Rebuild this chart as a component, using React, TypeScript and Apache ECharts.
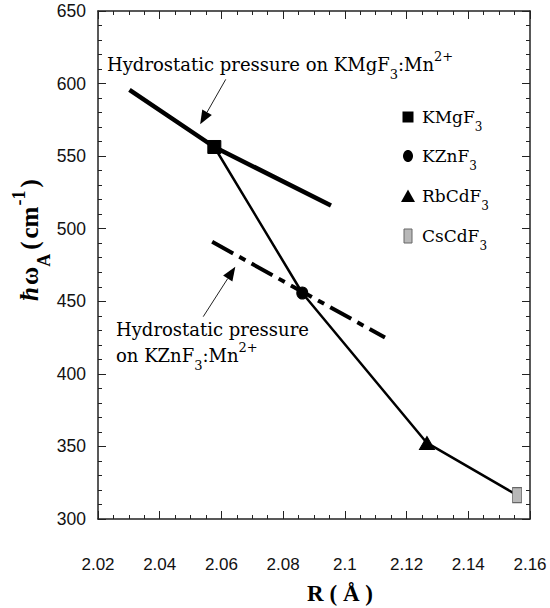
import React, { useEffect, useRef } from 'react';
import * as echarts from 'echarts';

// ---- data ----
const compounds = ['KMgF3', 'KZnF3', 'RbCdF3', 'CsCdF3'];
const R = [2.0577, 2.0862, 2.1266, 2.1558];
const omegaA = [556.3, 455.7, 352.4, 316.5];
const kmgPressureR = [2.0302, 2.0577, 2.0955];
const kmgPressureW = [595.6, 556.3, 516.0];
const kznPressureR = [2.057, 2.113];
const kznPressureW = [491.0, 425.0];
const xTickValues = [2.02, 2.04, 2.06, 2.08, 2.1, 2.12, 2.14, 2.16];
const yTickValues = [300, 350, 400, 450, 500, 550, 600, 650];
// annotation arrows (data coords): tail -> tip
const arrow1 = [[2.0614, 602.9], [2.0531, 571.9]];
const arrow2 = [[2.0541, 439.4], [2.0645, 473.8]];

const SERIF = '"DejaVu Serif", serif';
const BOLD_SERIF = '"Liberation Serif", "Times New Roman", serif';
const SANS = '"Liberation Sans", Arial, sans-serif';

type Part = { t: string; k?: 'sub' | 'sup'; it?: boolean; gap?: number };

let measureCtx: CanvasRenderingContext2D | null = null;
function measure(text: string, font: string): number {
  if (!measureCtx) measureCtx = document.createElement('canvas').getContext('2d');
  measureCtx!.font = font;
  return measureCtx!.measureText(text).width;
}

function textRun(x: number, yMid: number, parts: Part[], size: number, family: string, weight = 'normal') {
  const out: any[] = [];
  let cx = x;
  parts.forEach((p) => {
    const fs = p.k ? Math.round(size * 0.72) : size;
    const fstyle = p.it ? 'italic' : 'normal';
    const font = `${fstyle} ${weight} ${fs}px ${family}`;
    const dy = p.k === 'sub' ? size * 0.6 : p.k === 'sup' ? -size * 0.42 : 0;
    cx += p.gap || 0;
    out.push({
      type: 'text',
      x: cx,
      y: yMid + dy,
      silent: true,
      style: {
        text: p.t,
        fontSize: fs,
        fontFamily: family,
        fontWeight: weight,
        fontStyle: fstyle,
        fill: '#000',
        textAlign: 'left',
        textVerticalAlign: 'middle',
        align: 'left',
        verticalAlign: 'middle',
      },
    });
    cx += measure(p.t, font);
  });
  return out;
}

function arrowEls(tail: number[], tip: number[]) {
  const dx = tip[0] - tail[0];
  const dy = tip[1] - tail[1];
  const len = Math.sqrt(dx * dx + dy * dy);
  const ux = dx / len;
  const uy = dy / len;
  const hl = 14;
  const hw = 5.5;
  const bx = tip[0] - ux * hl;
  const by = tip[1] - uy * hl;
  return [
    {
      type: 'line',
      silent: true,
      shape: { x1: tail[0], y1: tail[1], x2: bx, y2: by },
      style: { stroke: '#222', lineWidth: 1 },
    },
    {
      type: 'polygon',
      silent: true,
      shape: {
        points: [
          [tip[0], tip[1]],
          [bx - uy * hw, by + ux * hw],
          [bx + uy * hw, by - ux * hw],
        ],
      },
      style: { fill: '#000' },
    },
  ];
}

const fmtX = (v: number) => String(Math.round(v * 100) / 100);

export default function App() {
  const ref = useRef<HTMLDivElement>(null);

  useEffect(() => {
    if (!ref.current) return;
    const chart = echarts.init(ref.current, null, { renderer: 'svg' });

    const axisLine = { show: true, onZero: false, lineStyle: { color: '#222', width: 1.5 } };
    const tick = { show: true, inside: true, length: 8, lineStyle: { color: '#222', width: 1 } };

    const xBase = {
      type: 'value',
      min: xTickValues[0],
      max: xTickValues[xTickValues.length - 1],
      interval: 0.02,
      axisLine,
      axisTick: tick,
      minorTick: { show: true, splitNumber: 4, length: 4, lineStyle: { color: '#222', width: 1 } },
      splitLine: { show: false },
    };
    const yBase = {
      type: 'value',
      min: yTickValues[0],
      max: yTickValues[yTickValues.length - 1],
      interval: 50,
      axisLine,
      axisTick: tick,
      minorTick: { show: true, splitNumber: 5, length: 4, lineStyle: { color: '#222', width: 1 } },
      splitLine: { show: false },
    };

    const symbols: any[] = [
      { symbol: 'rect', size: [13, 13], color: '#000', border: '#000' },
      { symbol: 'circle', size: [11, 12], color: '#000', border: '#000' },
      { symbol: 'triangle', size: [15, 13], color: '#000', border: '#000' },
      { symbol: 'rect', size: [9, 15], color: '#b8b8b8', border: '#666' },
    ];

    const option: any = {
      animation: false,
      backgroundColor: '#fff',
      grid: { left: 98, right: 20, top: 11, bottom: 89 },
      xAxis: [
        {
          ...xBase,
          position: 'bottom',
          axisLabel: { margin: 37, fontSize: 17, color: '#111', fontFamily: SANS, formatter: fmtX },
        },
        { ...xBase, position: 'top', axisLabel: { show: false } },
      ],
      yAxis: [
        {
          ...yBase,
          position: 'left',
          axisLabel: { margin: 12, fontSize: 17.5, color: '#111', fontFamily: SANS },
        },
        { ...yBase, position: 'right', axisLabel: { show: false } },
      ],
      series: [
        {
          name: 'trend',
          type: 'line',
          data: R.map((r, i) => [r, omegaA[i]]),
          symbol: 'none',
          lineStyle: { color: '#000', width: 2.5 },
          z: 2,
        },
        {
          name: 'KMgF3 pressure',
          type: 'line',
          data: kmgPressureR.map((r, i) => [r, kmgPressureW[i]]),
          symbol: 'none',
          lineStyle: { color: '#000', width: 4.5 },
          z: 2,
        },
        {
          name: 'KZnF3 pressure',
          type: 'line',
          data: kznPressureR.map((r, i) => [r, kznPressureW[i]]),
          symbol: 'none',
          lineStyle: { color: '#000', width: 4, type: [24, 7, 7, 7] },
          z: 2,
        },
        ...compounds.map((c, i) => ({
          name: c,
          type: 'scatter',
          data: [[R[i], omegaA[i]]],
          symbol: symbols[i].symbol,
          symbolSize: symbols[i].size,
          itemStyle: { color: symbols[i].color, borderColor: symbols[i].border, borderWidth: 1, opacity: 1 },
          z: 5,
        })),
      ],
    };

    chart.setOption(option);

    const px = (p: number[]) => chart.convertToPixel({ gridIndex: 0 }, p) as number[];

    const graphics: any[] = [];
    // arrows
    graphics.push(...arrowEls(px(arrow1[0]), px(arrow1[1])));
    graphics.push(...arrowEls(px(arrow2[0]), px(arrow2[1])));

    // annotation texts
    graphics.push(
      ...textRun(
        107,
        64,
        [{ t: 'Hydrostatic pressure on KMgF' }, { t: '3', k: 'sub' }, { t: ':Mn' }, { t: '2+', k: 'sup' }],
        18,
        SERIF
      )
    );
    graphics.push(...textRun(116, 329, [{ t: 'Hydrostatic pressure' }], 18, SERIF));
    graphics.push(
      ...textRun(
        116,
        355,
        [{ t: 'on KZnF' }, { t: '3', k: 'sub' }, { t: ':Mn' }, { t: '2+', k: 'sup' }],
        18,
        SERIF
      )
    );

    // legend
    const legendY = [117, 156, 196, 236];
    const lx = 408;
    compounds.forEach((c, i) => {
      const y = legendY[i];
      const s = symbols[i];
      if (i === 0) {
        graphics.push({ type: 'rect', silent: true, shape: { x: lx - 5.5, y: y - 5.5, width: 11, height: 11 }, style: { fill: '#000' } });
      } else if (i === 1) {
        graphics.push({ type: 'ellipse', silent: true, shape: { cx: lx, cy: y, rx: 5, ry: 6 }, style: { fill: '#000' } });
      } else if (i === 2) {
        graphics.push({
          type: 'polygon',
          silent: true,
          shape: { points: [[lx, y - 6.5], [lx - 7, y + 6], [lx + 7, y + 6]] },
          style: { fill: '#000' },
        });
      } else {
        graphics.push({
          type: 'rect',
          silent: true,
          shape: { x: lx - 4, y: y - 7, width: 8, height: 14 },
          style: { fill: s.color, stroke: s.border, lineWidth: 1 },
        });
      }
      const base = c.slice(0, -1);
      graphics.push(...textRun(lx + 14, y, [{ t: base }, { t: '3', k: 'sub' }], 17, SERIF));
    });

    // y-axis title (rotated)
    graphics.push({
      type: 'group',
      x: 29,
      y: 301,
      rotation: Math.PI / 2,
      children: textRun(
        0,
        0,
        [
          { t: 'ħ', it: true },
          { t: 'ω', gap: 2 },
          { t: 'A', k: 'sub' },
          { t: '(', gap: 4 },
          { t: 'cm', gap: 3 },
          { t: '-1', k: 'sup', gap: 1 },
          { t: ')', gap: 3 },
        ],
        25,
        BOLD_SERIF,
        'bold'
      ),
    });

    // x-axis title
    graphics.push({
      type: 'text',
      x: 340,
      y: 593,
      silent: true,
      style: {
        text: 'R ( Å )',
        fontSize: 23,
        fontFamily: BOLD_SERIF,
        fontWeight: 'bold',
        fill: '#000',
        textAlign: 'center',
        textVerticalAlign: 'middle',
        align: 'center',
        verticalAlign: 'middle',
      },
    });

    chart.setOption({ graphic: { elements: graphics } });

    return () => chart.dispose();
  }, []);

  return <div ref={ref} style={{ position: 'absolute', left: 0, top: 0, width: 550, height: 608 }} />;
}
